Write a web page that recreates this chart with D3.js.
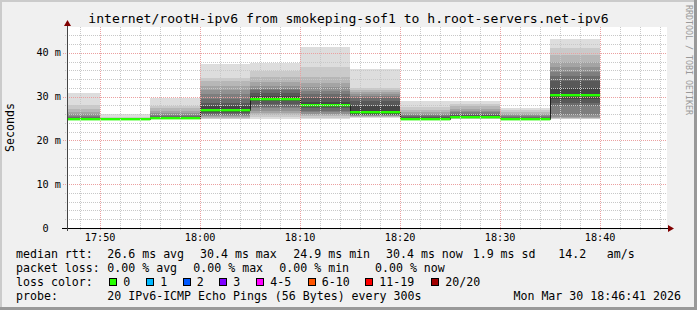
<!DOCTYPE html>
<html lang="en">
<head>
<meta charset="UTF-8" />
<title>internet/rootH-ipv6 from smokeping-sof1 to h.root-servers.net-ipv6</title>
<style>
  body { margin: 0; background: #f0f0f0; }
  svg { display: block; font-family: "DejaVu Sans Mono", monospace; }
  text { white-space: pre; }
</style>
</head>
<body>
<svg width="697" height="310"></svg>
<script src="https://d3js.org/d3.v7.min.js"></script>
<script>
const title = "internet/rootH-ipv6 from smokeping-sof1 to h.root-servers.net-ipv6";
const day = "2026-03-30";
const rangeStart = "17:46:41";
const rangeEnd = "18:46:41";

// start of each 5 minute step
const barStarts = ["17:45", "17:50", "17:55", "18:00", "18:05", "18:10",
                   "18:15", "18:20", "18:25", "18:30", "18:35"];
// median rtt per step (ms)
const medians = [24.9, 24.9, 25.1, 27.0, 29.5, 28.1, 26.4, 25.0, 25.3, 24.9, 30.4];
// 20 sorted ping rtts per step (ms)
const pings = [
  [24.6, 24.7, 24.8, 24.8, 24.8, 24.8, 24.9, 24.9, 24.9, 24.9, 24.9, 25.0, 25.1, 25.3, 25.6, 26.0, 26.5, 27.2, 28.0, 30.9],
  [24.7, 24.8, 24.8, 24.8, 24.9, 24.9, 24.9, 24.9, 24.9, 24.9, 24.9, 24.9, 25.0, 25.0, 25.0, 25.0, 25.1, 25.2, 25.4, 26.1],
  [24.8, 24.9, 24.9, 25.0, 25.0, 25.0, 25.0, 25.1, 25.1, 25.1, 25.1, 25.2, 25.4, 25.6, 25.9, 26.3, 26.8, 27.3, 27.8, 29.6],
  [24.9, 25.0, 25.1, 25.3, 25.5, 25.7, 25.9, 26.2, 26.5, 26.9, 27.1, 27.8, 28.5, 29.5, 30.5, 31.4, 32.5, 33.5, 34.3, 37.5],
  [24.9, 25.3, 25.8, 26.3, 26.8, 27.3, 27.6, 28.3, 28.9, 29.4, 29.6, 30.2, 30.8, 31.4, 31.8, 32.5, 33.3, 34.5, 35.9, 37.6],
  [24.9, 25.2, 25.5, 25.8, 26.1, 26.4, 26.8, 27.3, 27.7, 28.0, 28.2, 28.8, 29.6, 30.5, 31.3, 32.1, 33.2, 34.4, 36.8, 41.4],
  [25.2, 25.3, 25.4, 25.5, 25.6, 25.7, 25.8, 25.9, 26.1, 26.3, 26.5, 27.8, 29.0, 29.8, 30.2, 30.6, 31.0, 31.5, 32.0, 36.3],
  [24.8, 24.9, 24.9, 24.9, 25.0, 25.0, 25.0, 25.0, 25.0, 25.0, 25.1, 25.2, 25.4, 25.6, 25.9, 26.1, 26.5, 27.0, 27.6, 28.9],
  [24.9, 25.0, 25.1, 25.1, 25.2, 25.2, 25.2, 25.3, 25.3, 25.3, 25.3, 25.5, 25.8, 26.1, 26.4, 26.8, 27.2, 27.8, 28.4, 29.1],
  [24.8, 24.8, 24.9, 24.9, 24.9, 24.9, 24.9, 24.9, 24.9, 24.9, 24.9, 25.0, 25.1, 25.3, 25.5, 25.7, 26.0, 26.4, 26.9, 27.4],
  [24.9, 25.0, 25.1, 25.2, 25.4, 25.8, 27.9, 28.6, 29.4, 30.3, 30.5, 32.0, 33.6, 34.6, 35.7, 36.8, 38.0, 39.5, 41.2, 43.1]
];

const yTicks = [0, 10, 20, 30, 40];
const rttRow = ["median rtt:", "26.6 ms avg", "30.4 ms max", "24.9 ms min", "30.4 ms now", "1.9 ms sd", "14.2", "am/s"];
const lossRow = ["packet loss:", "0.00 % avg", "0.00 % max", "0.00 % min", "0.00 % now"];
const lossLabels = ["0", "1", "2", "3", "4-5", "6-10", "11-19", "20/20"];
const lossColors = ["#26ff00", "#00b8ff", "#0059ff", "#7e00ff", "#ff00ff", "#ff5500", "#ff0000", "#a10000"];
const probeRow = ["probe:", "20 IPv6-ICMP Echo Pings (56 Bytes) every 300s", "Mon Mar 30 18:46:41 2026"];

const W = 697, H = 310;
const pLeft = 67, pRight = 667, pTop = 27, pBottom = 228;
const parse = d3.timeParse("%Y-%m-%d %H:%M:%S");
const t = (s) => parse(day + " " + (s.length === 5 ? s + ":00" : s));

const svg = d3.select("svg");

// frame
svg.append("rect").attr("width", W).attr("height", H).attr("fill", "#f0f0f0");
svg.append("path").attr("d", `M1,${H}V1H${W}`).attr("fill", "none").attr("stroke", "#cbcbcb").attr("stroke-width", 2);
svg.append("path").attr("d", `M0,${H - 1.5}H${W - 1.5}V0`).attr("fill", "none").attr("stroke", "#999").attr("stroke-width", 3);

const x = d3.scaleTime().domain([t(rangeStart), t(rangeEnd)]).range([pLeft, pRight]);
const y = d3.scaleLinear().domain([0, 45.9]).range([pBottom, pTop]);

svg.append("rect").attr("x", pLeft).attr("y", pTop).attr("width", pRight - pLeft).attr("height", pBottom - pTop).attr("fill", "#fff");

svg.append("clipPath").attr("id", "plot")
  .append("rect").attr("x", pLeft).attr("y", pTop).attr("width", pRight - pLeft).attr("height", pBottom - pTop);

const plot = svg.append("g").attr("clip-path", "url(#plot)");

// smoke: pair i covers ping[i] .. ping[19-i], darker towards the middle
const half = 10;
const smokeColor = (i) => {
  const v = Math.floor(190 / half * (half - (i + 1))) + 50;
  return d3.rgb(v, v, v).formatHex();
};

barStarts.forEach((s, b) => {
  const x0 = x(t(s));
  const x1 = x(d3.timeMinute.offset(t(s), 5));
  const p = pings[b];
  for (let i = 0; i < half; i++) {
    plot.append("rect")
      .attr("x", x0).attr("width", x1 - x0)
      .attr("y", y(p[19 - i]))
      .attr("height", y(p[i]) - y(p[19 - i]))
      .attr("fill", smokeColor(i))
      .attr("shape-rendering", "crispEdges");
  }
});

// median as dark step line, then loss-coloured bands
const medPts = barStarts.map((s, b) => [t(s), medians[b]]);
medPts.push([d3.timeMinute.offset(t(barStarts[barStarts.length - 1]), 5), medians[medians.length - 1]]);
plot.append("path")
  .attr("d", d3.line().x((d) => Math.round(x(d[0])) + 0.5).y((d) => Math.round(y(d[1])) + 0.5).curve(d3.curveStepAfter)(medPts))
  .attr("fill", "none").attr("stroke", "#202020").attr("stroke-width", 1);

barStarts.forEach((s, b) => {
  const x0 = x(t(s));
  const x1 = x(d3.timeMinute.offset(t(s), 5));
  plot.append("rect")
    .attr("x", x0).attr("width", x1 - x0)
    .attr("y", Math.round(y(medians[b])) - 1)
    .attr("height", 2.4)
    .attr("fill", lossColors[0]);
});

// grid on top of the data
const grid = svg.append("g").attr("shape-rendering", "crispEdges").attr("stroke-width", 1);
const minorT = x.ticks(d3.timeMinute.every(2)).filter((d) => d.getMinutes() % 10 !== 0);
const majorT = x.ticks(d3.timeMinute.every(10));
const minorY = d3.range(2, 46, 2).filter((v) => v % 10 !== 0);

grid.selectAll(".vmin").data(minorT).join("line")
  .attr("x1", (d) => Math.round(x(d)) + 0.5).attr("x2", (d) => Math.round(x(d)) + 0.5)
  .attr("y1", pTop).attr("y2", pBottom + 2)
  .attr("stroke", "#c8c8c8").attr("stroke-dasharray", "1,1");
grid.selectAll(".hmin").data(minorY).join("line")
  .attr("x1", pLeft - 2).attr("x2", pRight)
  .attr("y1", (d) => Math.round(y(d)) + 0.5).attr("y2", (d) => Math.round(y(d)) + 0.5)
  .attr("stroke", "#c8c8c8").attr("stroke-dasharray", "1,1");
grid.selectAll(".vmaj").data(majorT).join("line")
  .attr("x1", (d) => Math.round(x(d)) + 0.5).attr("x2", (d) => Math.round(x(d)) + 0.5)
  .attr("y1", pTop).attr("y2", pBottom + 3)
  .attr("stroke", "#eba0a0").attr("stroke-dasharray", "1,1");
grid.selectAll(".hmaj").data(yTicks.filter((v) => v > 0)).join("line")
  .attr("x1", pLeft - 4).attr("x2", pRight)
  .attr("y1", (d) => Math.round(y(d)) + 0.5).attr("y2", (d) => Math.round(y(d)) + 0.5)
  .attr("stroke", "#eba0a0").attr("stroke-dasharray", "1,1");

// axes
svg.append("line").attr("x1", pLeft - 5).attr("x2", pRight + 2).attr("y1", pBottom + 0.5).attr("y2", pBottom + 0.5)
  .attr("stroke", "#000").attr("shape-rendering", "crispEdges");
svg.append("line").attr("x1", pLeft + 0.5).attr("x2", pLeft + 0.5).attr("y1", pBottom + 3).attr("y2", pTop - 3)
  .attr("stroke", "#444").attr("shape-rendering", "crispEdges");
svg.append("path").attr("d", `M${pRight + 1},${pBottom - 3}L${pRight + 7},${pBottom + 0.5}L${pRight + 1},${pBottom + 4}Z`).attr("fill", "#800000");
svg.append("path").attr("d", `M${pLeft - 3},${pTop - 1}L${pLeft + 0.5},${pTop - 7}L${pLeft + 4},${pTop - 1}Z`).attr("fill", "#800000");

// axis labels
svg.selectAll(".ylab").data(yTicks).join("text")
  .attr("x", pLeft - 6).attr("y", (d) => y(d) + 3.5)
  .attr("text-anchor", "end").attr("font-size", 10.2)
  .text((d) => (d === 0 ? "0  " : d + " m"));
const fmt = d3.timeFormat("%H:%M");
svg.selectAll(".xlab").data(majorT).join("text")
  .attr("x", (d) => x(d)).attr("y", pBottom + 12.5)
  .attr("text-anchor", "middle").attr("font-size", 10.2)
  .text(fmt);

svg.append("text")
  .attr("transform", `translate(13.5,${(pTop + pBottom) / 2}) rotate(-90)`)
  .attr("text-anchor", "middle").attr("font-size", 11.6).text("Seconds");

svg.append("text").attr("x", W / 2).attr("y", 23).attr("text-anchor", "middle")
  .attr("font-size", 13.1).text(title);

svg.append("text")
  .attr("transform", "translate(685.5,5) rotate(90)")
  .attr("font-size", 8.3).attr("fill", "#999").text("RRDTOOL / TOBI OETIKER");

// legend
const legend = svg.append("g").attr("font-size", 11.6);
const rowY = [258, 272, 286, 300];
const rttX = [16, 107.3, 200, 293.3, 386, 472.7, 558.3, 606.7];
const lossX = [16, 107.3, 193.3, 279.3, 375];
rttRow.forEach((s, i) => legend.append("text").attr("x", rttX[i]).attr("y", rowY[0]).text(s));
lossRow.forEach((s, i) => legend.append("text").attr("x", lossX[i]).attr("y", rowY[1]).text(s));
legend.append("text").attr("x", 16).attr("y", rowY[2]).text("loss color:");
const boxX = [109, 146, 182.5, 219, 256, 307.5, 365, 431];
lossLabels.forEach((s, i) => {
  legend.append("rect").attr("x", boxX[i] + 0.5).attr("y", 278.5).attr("width", 7).attr("height", 7)
    .attr("fill", lossColors[i]).attr("stroke", "#000").attr("shape-rendering", "crispEdges");
  legend.append("text").attr("x", boxX[i] + 14.3).attr("y", rowY[2]).text(s);
});
legend.append("text").attr("x", 16).attr("y", rowY[3]).text(probeRow[0]);
legend.append("text").attr("x", 107.3).attr("y", rowY[3]).text(probeRow[1]);
legend.append("text").attr("x", 681).attr("y", rowY[3]).attr("text-anchor", "end").text(probeRow[2]);
</script>
</body>
</html>
